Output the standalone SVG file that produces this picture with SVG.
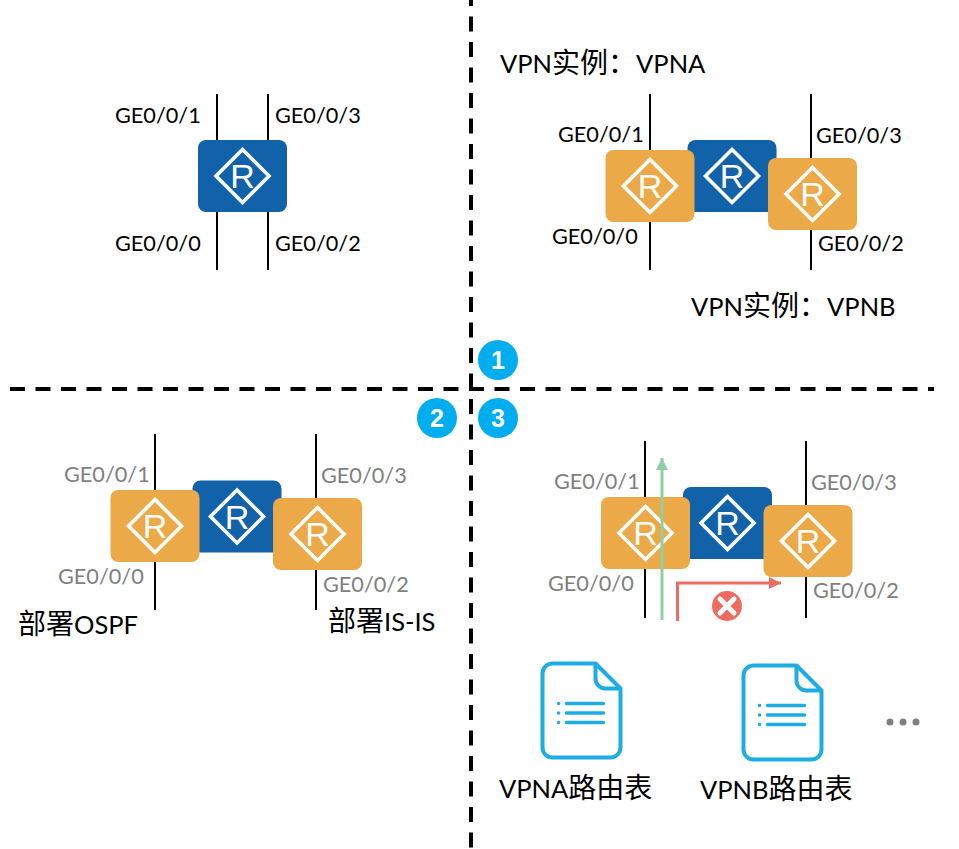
<svg xmlns="http://www.w3.org/2000/svg" xmlns:xlink="http://www.w3.org/1999/xlink" width="959" height="849" viewBox="0 0 959 849">
<style>
text{font-family:"Lato","Noto Sans CJK SC","Noto Sans",sans-serif;font-size:21.7px;fill:#000}
.g{fill:#7f7f7f}
.cn{font-size:25.5px}
.cn .z{font-size:28px}
.port{stroke:#000;stroke-width:2;fill:none}
.dash{stroke:#000;stroke-width:4;stroke-dasharray:15 10.5;fill:none}
.badge circle{fill:#00aeef}
.badge text{fill:#fff;font-family:"Liberation Sans",sans-serif;font-weight:bold;font-size:25px;text-anchor:middle}
.rb{fill:#1262aa}
.ro{fill:#eca947}
.dia{fill:none;stroke:#fff;stroke-width:3.6}
.rt{fill:#fff;font-family:"Liberation Sans",sans-serif;font-size:34px;text-anchor:middle}
.doc{fill:none;stroke:#1dade4;stroke-width:4;stroke-linejoin:round}
.docl{stroke:#1dade4;stroke-width:3.500;stroke-linecap:round}
</style>
<defs>
<g id="diamond"><path class="dia" d="M0 -26.500L26.500 0L0 26.500L-26.500 0Z"/><text class="rt" x="0" y="12">R</text></g>
<g id="blue"><rect class="rb" x="-44.500" y="-36" width="89" height="72" rx="8"/><use xlink:href="#diamond" href="#diamond"/></g>
<g id="orange"><rect class="ro" x="-44.500" y="-36" width="89" height="72" rx="8"/><use xlink:href="#diamond" href="#diamond"/></g>
<g id="docicon"><path class="doc" d="M12 2H55L80 27V86A10 10 0 0 1 70 96H12A10 10 0 0 1 2 86V12A10 10 0 0 1 12 2Z"/><path class="doc" d="M55 2V17A10 10 0 0 0 65 27H80"/>
<path class="docl" d="M26 42H63M26 51.500H63M26 61H63"/><path class="docl" d="M18 42h.1M18 51.500h.1M18 61h.1"/></g>
<marker id="ag" markerUnits="userSpaceOnUse" markerWidth="13" markerHeight="13" refX="12" refY="6" orient="auto"><path d="M0 0L12 6L0 12Z" fill="#8fcfa3"/></marker>
<marker id="ar" markerUnits="userSpaceOnUse" markerWidth="13" markerHeight="13" refX="12" refY="6" orient="auto"><path d="M0 0L12 6L0 12Z" fill="#ee6c5f"/></marker>
</defs>
<g id="connectors">
<path class="dash" d="M471 -9V849"/>
<path class="dash" d="M10 389H934"/>
<path class="port" d="M217 94V270M268 94V270"/>
<path class="port" d="M650 94V270M811 94V270"/>
<path class="port" d="M155 434V610M316 434V610"/>
<path class="port" d="M645 441V618M806 441V618"/>
</g>
<g id="router-q1"><use xlink:href="#blue" href="#blue" x="242.500" y="176"/></g>
<g id="router-q2-blue"><use xlink:href="#blue" href="#blue" x="732" y="176"/></g>
<g id="router-q2-a"><use xlink:href="#orange" href="#orange" x="650" y="186"/></g>
<g id="router-q2-b"><use xlink:href="#orange" href="#orange" x="812.500" y="194"/></g>
<g id="router-q3-blue"><use xlink:href="#blue" href="#blue" x="237" y="516.500"/></g>
<g id="router-q3-a"><use xlink:href="#orange" href="#orange" x="155" y="526"/></g>
<g id="router-q3-b"><use xlink:href="#orange" href="#orange" x="317.500" y="534"/></g>
<g id="router-q4-blue"><use xlink:href="#blue" href="#blue" x="727.500" y="523"/></g>
<g id="router-q4-a"><use xlink:href="#orange" href="#orange" x="645.500" y="533"/></g>
<g id="router-q4-b"><use xlink:href="#orange" href="#orange" x="808" y="541"/></g>
<g id="flows">
<path d="M662 620V458" stroke="#8fcfa3" stroke-width="3" fill="none" marker-end="url(#ag)"/>
<path d="M677.500 621V583H781" stroke="#ee6c5f" stroke-width="3" fill="none" marker-end="url(#ar)"/>
</g>
<g id="cross"><circle cx="727" cy="606" r="15" fill="#ee6c5f"/><path d="M720 599L734 613M734 599L720 613" stroke="#fff" stroke-width="5" stroke-linecap="round"/></g>
<g id="badge-1" class="badge"><circle cx="498" cy="360" r="20"/><text x="498" y="369">1</text></g>
<g id="badge-2" class="badge"><circle cx="437" cy="418" r="20"/><text x="437" y="427">2</text></g>
<g id="badge-3" class="badge"><circle cx="498" cy="418" r="20"/><text x="498" y="427">3</text></g>
<g id="labels">
<text x="115" y="123">GE0/0/1</text><text x="275" y="123">GE0/0/3</text>
<text x="115" y="251">GE0/0/0</text><text x="275" y="251">GE0/0/2</text>
<text x="558" y="142">GE0/0/1</text><text x="816" y="143">GE0/0/3</text>
<text x="552" y="244">GE0/0/0</text><text x="818" y="251">GE0/0/2</text>
<text class="cn" x="500" y="73">VPN<tspan class="z">实例：</tspan>VPNA</text>
<text class="cn" x="691" y="316">VPN<tspan class="z">实例：</tspan>VPNB</text>
<text class="g" x="64" y="482">GE0/0/1</text><text class="g" x="321" y="483">GE0/0/3</text>
<text class="g" x="58" y="584">GE0/0/0</text><text class="g" x="323" y="592">GE0/0/2</text>
<text class="cn" x="18" y="634"><tspan class="z">部署</tspan>OSPF</text>
<text class="cn" x="328" y="631"><tspan class="z">部署</tspan>IS-IS</text>
<text class="g" x="554" y="489">GE0/0/1</text><text class="g" x="811" y="490">GE0/0/3</text>
<text class="g" x="548" y="591">GE0/0/0</text><text class="g" x="813" y="598">GE0/0/2</text>
<text class="cn" x="499" y="798">VPNA<tspan class="z">路由表</tspan></text>
<text class="cn" x="700" y="799">VPNB<tspan class="z">路由表</tspan></text>
</g>
<g id="doc-a"><use xlink:href="#docicon" href="#docicon" x="540.500" y="661.500"/></g>
<g id="doc-b"><use xlink:href="#docicon" href="#docicon" x="741.500" y="663.500"/></g>
<g id="more" fill="#7f7f7f"><circle cx="890" cy="722" r="3.500"/><circle cx="903" cy="722" r="3.500"/><circle cx="916" cy="722" r="3.500"/></g>
</svg>
